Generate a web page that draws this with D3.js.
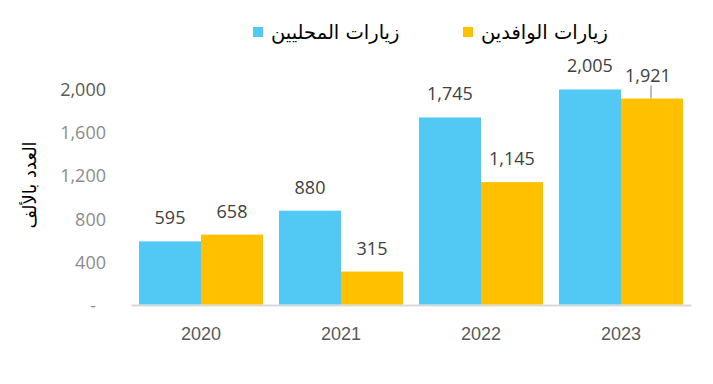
<!DOCTYPE html>
<html>
<head>
<meta charset="utf-8">
<script src="https://cdn.jsdelivr.net/npm/d3@7"></script>
<style>
    body { margin: 0; background: #fff; }
    svg { display: block; font-family: "Open Sans", "Noto Sans", sans-serif; }
</style>
</head>
<body>
<div id="chart"></div>
<script>
const years = ['2020', '2021', '2022', '2023'];
const seriesNames = ['زيارات المحليين', 'زيارات الوافدين'];
const localVisits = [595, 880, 1745, 2005];
const expatVisits = [658, 315, 1145, 1921];
const yTicks = [0, 400, 800, 1200, 1600, 2000];

const width = 713,
    height = 384,
    margins = { left: 131, top: 90, right: 22, bottom: 78 };

const colors = ['#52C9F5', '#FFC000'];

const svg = d3.select('#chart').append('svg')
    .attr('width', width)
    .attr('height', height);

const innerW = width - margins.left - margins.right,
    innerH = height - margins.top - margins.bottom;

const wrap = svg.append('g')
    .attr('transform', 'translate(' + margins.left + ', ' + margins.top + ')');

const x = d3.scaleBand()
    .domain(years)
    .range([0, innerW])
    .paddingInner(16 / 140)
    .paddingOuter(8 / 140);

const xs = d3.scaleBand()
    .domain([0, 1])
    .range([0, x.bandwidth()]);

const y = d3.scaleLinear()
    .domain([0, 2000])
    .range([innerH - 0.5, 0]);

// Axises
const fmt = d3.format(',');

const axisY = d3.axisLeft(y)
    .tickValues(yTicks)
    .tickSize(0)
    .tickPadding(25)
    .tickFormat(d => d === 0 ? '-' : fmt(d));

const gy = wrap.append('g').call(axisY);
gy.select('.domain').remove();
gy.selectAll('text')
    .attr('font-size', 18)
    .attr('font-family', '"Open Sans", sans-serif')
    .attr('fill', d => d === 2000 ? '#595959' : '#8c8c8c');
gy.selectAll('.tick').filter(d => d === 0).select('text').attr('dx', -10);

const axisX = d3.axisBottom(x)
    .tickSize(0)
    .tickPadding(22);

const gx = wrap.append('g')
    .attr('transform', 'translate(0, ' + (innerH - 1) + ')')
    .call(axisX);
gx.select('.domain')
    .attr('stroke', '#d9d9d9')
    .attr('stroke-width', 2);
gx.selectAll('text')
    .attr('font-size', 18)
    .attr('fill', '#595959');

// Bars
const series = [localVisits, expatVisits];

series.forEach((vals, s) => {
    const g = wrap.append('g');

    g.selectAll('rect')
        .data(vals)
        .join('rect')
        .attr('x', (d, i) => x(years[i]) + xs(s))
        .attr('y', d => y(d))
        .attr('width', xs.bandwidth())
        .attr('height', d => y(0) - y(d) - 1)
        .attr('fill', colors[s]);

    g.selectAll('text')
        .data(vals)
        .join('text')
        .attr('x', (d, i) => x(years[i]) + xs(s) + xs.bandwidth() / 2 + (s === 1 && i === 3 ? -4 : 0))
        .attr('y', d => y(d) - 17)
        .attr('text-anchor', 'middle')
        .attr('font-size', 18)
        .attr('fill', '#404040')
        .text(d => fmt(d));
});

// leader line for the last label
wrap.append('line')
    .attr('x1', x('2023') + xs(1) + xs.bandwidth() / 2 - 1)
    .attr('x2', x('2023') + xs(1) + xs.bandwidth() / 2 - 1)
    .attr('y1', y(expatVisits[3]) - 13)
    .attr('y2', y(expatVisits[3]))
    .attr('stroke', '#a6a6a6')
    .attr('stroke-width', 1.5);

// Y title
svg.append('text')
    .attr('transform', 'translate(36, 185) rotate(-90)')
    .attr('text-anchor', 'middle')
    .attr('font-family', '"DejaVu Sans", sans-serif')
    .attr('font-size', 18)
    .attr('fill', '#000')
    .text('العدد بالألف');

// Legend
const legendX = [253, 463];
const legend = svg.append('g');

seriesNames.forEach((name, i) => {
    legend.append('rect')
        .attr('x', legendX[i])
        .attr('y', 27)
        .attr('width', 10)
        .attr('height', 10)
        .attr('fill', colors[i]);

    legend.append('text')
        .attr('x', legendX[i] + 18)
        .attr('y', 39)
        .attr('font-family', '"DejaVu Sans", sans-serif')
        .attr('font-size', 19.5)
        .attr('fill', '#000')
        .style('direction', 'ltr')
        .text(name);
});
</script>
</body>
</html>
